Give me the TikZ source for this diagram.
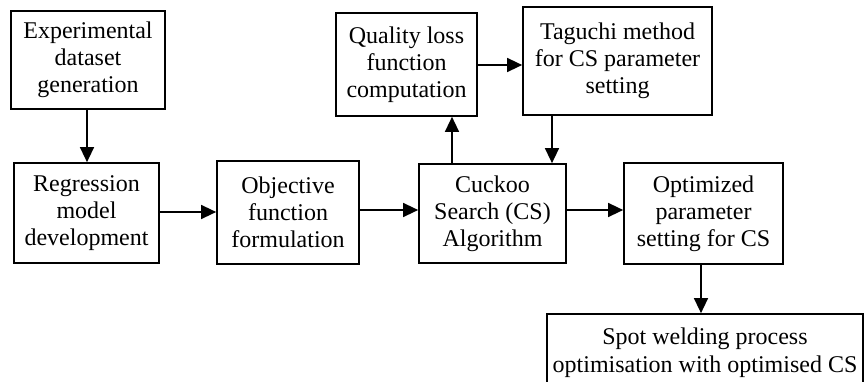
\documentclass[tikz,border=0pt]{standalone}
\usepackage{fontspec}
\setmainfont{Liberation Serif}
\usetikzlibrary{arrows.meta,calc}
\begin{document}
\begin{tikzpicture}[x=1pt,y=-1pt,
  box/.style={draw, line width=1.7pt, align=center, inner sep=0pt,
    font=\fontsize{24}{27}\selectfont},
  conn/.style={line width=1.4pt, -{Triangle[length=15pt,width=14pt]}}]
\clip (0,0) rectangle (865,382);
\node[box, minimum width=154, minimum height=98] (exp) at (88,60) {Experimental\\dataset\\generation};
\node[box, minimum width=145, minimum height=100] (reg) at (86.5,213) {Regression\\model\\development};
\node[box, minimum width=142, minimum height=103] (obj) at (288,212.5) {Objective\\function\\formulation};
\node[box, minimum width=147, minimum height=99] (cs) at (492.5,213.5) {Cuckoo\\Search (CS)\\Algorithm};
\node[box, minimum width=141, minimum height=103] (qlf) at (406.5,64.5) {Quality loss\\function\\computation};
\node[box, minimum width=189, minimum height=108] (tag) at (617.5,61) {Taguchi method\\for CS parameter\\setting};
\node[box, minimum width=159, minimum height=101] (opt) at (703.5,213.5) {Optimized\\parameter\\setting for CS};
\node[box, minimum width=316, minimum height=78, font=\fontsize{24}{28}\selectfont] (spot) at (705,353) {Spot welding process\\optimisation with optimised CS};
\draw[conn] (exp.south -| 87,0) -- (reg.north -| 87,0);
\draw[conn] (reg.east |- 0,212) -- (obj.west |- 0,212);
\draw[conn] (obj.east |- 0,210) -- (cs.west |- 0,210);
\draw[conn] (cs.east |- 0,210) -- (opt.west |- 0,210);
\draw[conn] (cs.north -| 452,0) -- (qlf.south -| 452,0);
\draw[conn] (tag.south -| 552,0) -- (cs.north -| 552,0);
\draw[conn] (qlf.east |- 0,65) -- (tag.west |- 0,65);
\draw[conn] (opt.south -| 701,0) -- (spot.north -| 701,0);
\end{tikzpicture}
\end{document}
